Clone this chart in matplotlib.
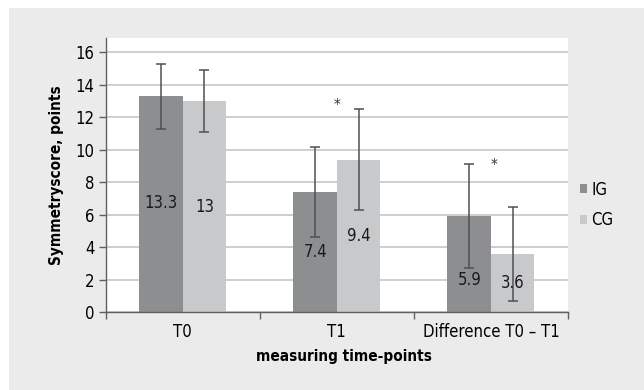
import numpy as np
import matplotlib
matplotlib.use("Agg")
import matplotlib.pyplot as plt
from matplotlib.patches import Rectangle

plt.rcParams['font.family'] = ['DejaVu Sans']
plt.rcParams['font.stretch'] = 'condensed'

categories = ["T0", "T1", "Difference T0 \u2013 T1"]
ig_values = [13.3, 7.4, 5.9]
cg_values = [13.0, 9.4, 3.6]
ig_err = [2.0, 2.8, 3.2]
cg_err = [1.9, 3.1, 2.9]
ig_labels = ["13.3", "7.4", "5.9"]
cg_labels = ["13", "9.4", "3.6"]
star_y = [None, 12.7, 9.0]

fig = plt.figure(figsize=(6.44, 3.90), dpi=100)
fig.patch.set_facecolor("white")
fig.patches.append(Rectangle((9 / 644, 0), 1, (390 - 8) / 390, transform=fig.transFigure,
                             facecolor="#ebebeb", edgecolor="none", zorder=-10))

ax = fig.add_axes([0.164, 0.2, 0.718, 0.703])
ax.set_facecolor("white")

x = np.arange(len(categories))
w = 0.282
ig_col = "#8d8e90"
cg_col = "#c8c9cb"
err_col = "#505052"

ax.bar(x - w / 2, ig_values, w, color=ig_col, label="IG", zorder=2)
ax.bar(x + w / 2, cg_values, w, color=cg_col, label="CG", zorder=2)
ax.errorbar(x - w / 2, ig_values, yerr=ig_err, fmt="none", ecolor=err_col,
            elinewidth=1.1, capsize=3.5, capthick=1.1, zorder=3)
ax.errorbar(x + w / 2, cg_values, yerr=cg_err, fmt="none", ecolor=err_col,
            elinewidth=1.1, capsize=3.5, capthick=1.1, zorder=3)

# value labels inside the bars
ig_label_y = [6.7, 3.7, 2.0]
cg_label_y = [6.5, 4.7, 1.8]
for i in range(len(categories)):
    ax.text(x[i] - w / 2, ig_label_y[i], ig_labels[i], ha="center", va="center",
            fontsize=12, color="#1a1a1a", zorder=4)
    ax.text(x[i] + w / 2, cg_label_y[i], cg_labels[i], ha="center", va="center",
            fontsize=12, color="#1a1a1a", zorder=4)
    if star_y[i] is not None:
        ax.text(x[i] + (0.02 if i == 2 else 0), star_y[i], "*", ha="center", va="center",
                fontsize=11, color="#333333", zorder=4)

ax.set_ylim(0, 16.9)
ax.set_xlim(-0.5, 2.5)
ax.set_yticks(np.arange(0, 17, 2))
ax.yaxis.grid(True, color="#c6c6c6", linewidth=1.2, zorder=0)
ax.set_axisbelow(True)

ax.set_xticks([-0.5, 0.5, 1.5, 2.5])
ax.set_xticklabels([])
ax.set_xticks(x, minor=True)
ax.set_xticklabels(categories, minor=True)
ax.tick_params(axis="x", which="minor", length=0, pad=8, labelsize=12)
ax.tick_params(axis="x", which="major", length=5, color="#606060", width=1)
ax.tick_params(axis="y", length=5, color="#606060", width=1, labelsize=12, pad=3)

for s in ["top", "right"]:
    ax.spines[s].set_visible(False)
for s in ["left", "bottom"]:
    ax.spines[s].set_color("#606060")
    ax.spines[s].set_linewidth(1)

ax.set_ylabel("Symmetryscore, points", fontsize=11, fontweight="bold", labelpad=8)
ax.set_xlabel("measuring time-points", fontsize=11, fontweight="bold", labelpad=5)
ax.xaxis.set_label_coords(0.516, -0.135)

ax.legend(loc="center left", bbox_to_anchor=(1.0, 0.39), frameon=False, fontsize=12,
          handlelength=0.45, handleheight=0.45, handletextpad=0.25, labelspacing=0.75,
          borderaxespad=0.3)

fig.savefig("out.png", dpi=100)
